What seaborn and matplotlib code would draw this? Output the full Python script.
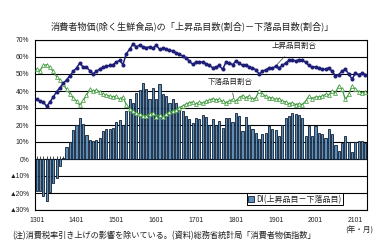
import matplotlib
matplotlib.use("Agg")
import matplotlib.pyplot as plt
import seaborn as sns
import numpy as np
import pandas as pd
from matplotlib.patches import Patch

sns.set_theme(style="white")
plt.rcParams['font.family'] = ['Noto Sans CJK JP', 'DejaVu Sans']

# ---- data (monthly, 2013/01 - 2021/04) ----
upper = [35, 34, 33.5, 31, 33.5, 36.5, 39.5, 42, 44.5, 46.5,
         49, 51.5, 53.5, 56.5, 54, 54, 52, 50, 51.5, 53,
         54, 54.5, 55, 55.5, 57, 58, 55.5, 62, 64.5, 67.5,
         66, 67, 66, 65.5, 66, 65, 67, 64.5, 65, 64.5,
         64, 63.5, 62.5, 61.5, 60.5, 59.5, 57.5, 55.7, 56.8, 57.3,
         56.8, 56, 55, 53.7, 54, 55, 52.7, 56.8, 56.5, 55.5,
         57.5, 56.5, 55, 55.5, 54, 53.5, 52.5, 50, 51.5, 52.5,
         53.5, 53.5, 54.5, 53.5, 55, 56.5, 58, 58.5, 57.5, 58.5,
         58, 57, 55, 54, 54.3, 53.5, 53, 52.7, 53.7, 51.5,
         49, 49.7, 51.7, 52.7, 50, 47, 50.4, 49.7, 50.4, 49.7]
lower = [53, 52, 55, 55.5, 54, 51.5, 48.5, 46.5, 44, 41,
         38.5, 36, 34, 31.5, 34.5, 37.5, 41, 40, 40.5, 39.5,
         38, 37.5, 37, 36.5, 37, 35, 36.5, 32, 29.5, 28,
         27, 26.5, 25.5, 25.5, 26.5, 27, 25, 26, 24.5, 26.5,
         27.5, 28.2, 29, 30.2, 31.2, 32.2, 33.2, 33.5, 32.2, 33.5,
         32.8, 34, 34.5, 35.5, 34.8, 35, 34, 33.2, 34, 35,
         34, 36, 37.3, 36, 37, 35, 36, 40, 38, 37,
         36, 36, 35, 35.5, 34, 33.5, 32.5, 33, 32, 32.5,
         32, 34, 37, 35.5, 36.5, 36.5, 37, 38, 37.5, 40,
         39, 43, 41, 35, 38, 43, 41, 39.5, 39, 39.5]
di = [-18.8, -18.8, -21.5, -24.5, -19.5, -14, -11, -4, 0.5, 7,
      10, 17, 20, 24.3, 20.6, 14, 11, 10.5, 11, 12.5,
      16.5, 17.8, 17.8, 18.5, 21.8, 23, 19.8, 28.3, 35, 33,
      39, 40.6, 44.5, 41, 35, 42, 35, 44, 38, 37,
      33, 35, 33, 30, 28, 25.5, 23.3, 21, 24, 23.3,
      25.7, 24.5, 20, 23.3, 20, 22.5, 18.5, 24, 24, 21.5,
      27, 25.3, 16.5, 25, 20, 17.5, 15.5, 11.6, 15, 15.5,
      19.5, 17.5, 17, 13.5, 20, 24.3, 25.3, 26.9, 26.3, 25.7,
      24.3, 13.5, 19.4, 13.5, 19.4, 15.5, 14.5, 12.5, 17.5, 15,
      8, 4.7, 9.6, 13.5, 10, 4.1, 10, 10.6, 10.6, 9.2]
tick_labels = ["1301", "1401", "1501", "1601", "1701", "1801", "1901", "2001", "2101"]
y_ticks = [70, 60, 50, 40, 30, 20, 10, 0, -10, -20, -30]
y_labels = ["70%", "60%", "50%", "40%", "30%", "20%", "10%", "0%", "▲10%", "▲20%", "▲30%"]

title = "消費者物価(除く生鮮食品)の「上昇品目数(割合)－下落品目数(割合)」"
label_up = "上昇品目割合"
label_down = "下落品目割合"
label_di = "DI(上昇品目－下落品目)"
note = "(注)消費税率引き上げの影響を除いている。(資料)総務省統計局「消費者物価指数」"
unit = "(年・月)"

n = len(di)
idx = np.arange(n)
df = pd.DataFrame({"i": idx, "upper": upper, "lower": lower, "di": di})

fig = plt.figure(figsize=(3.87, 2.5), dpi=100)
ax = fig.add_axes([35 / 387, 40 / 250, 332 / 387, 170 / 250])

bar_fc = "#5f8fb8"
bar_ec = "#0f1f33"
sns.barplot(data=df, x="i", y="di", ax=ax, color=bar_fc, width=0.64,
            edgecolor=bar_ec, linewidth=0.6, saturation=1, zorder=2)
sns.lineplot(data=df, x="i", y="upper", ax=ax, color="#1e1e78", lw=1.1,
             marker="o", markersize=2.9, markeredgewidth=0, zorder=4)
sns.lineplot(data=df, x="i", y="lower", ax=ax, color="#3f9a3f", lw=0.9,
             marker="^", markersize=2.8, markerfacecolor="#eef7e8",
             markeredgecolor="#3f9a3f", markeredgewidth=0.5, zorder=3)

ax.set_xlim(-0.5, n - 0.5)
ax.set_ylim(-30, 70)
ax.set_xlabel("")
ax.set_ylabel("")

tick_font = ['Liberation Sans Narrow', 'Liberation Sans', 'Noto Sans CJK JP']
ax.set_xticks(np.arange(0, n, 12)[:len(tick_labels)])
ax.set_xticklabels(tick_labels, fontsize=4.9, family=tick_font, color="#222222")
ax.set_yticks(y_ticks)
ax.set_yticklabels(y_labels, fontsize=4.9, family=tick_font, color="#222222")
ax.tick_params(axis="both", length=0, pad=4)
ax.tick_params(axis="x", pad=5)

for v in y_ticks:
    ax.axhline(v, color="black", lw=0.8, zorder=1)
for sp in ax.spines.values():
    sp.set_color("black")
    sp.set_linewidth(0.8)
    sp.set_visible(True)

# small category ticks on the zero line
sax = ax.secondary_xaxis(0.3)
sax.set_xticks(idx)
sax.set_xticklabels([])
sax.tick_params(axis="x", direction="in", length=2.2, width=0.5, color="black")
sax.spines["bottom"].set_linewidth(0.8)

# series labels
ax.annotate(label_up, xy=(72, 54.7), xytext=(77.5, 66.3), fontsize=5.4,
            ha="center", va="center", color="#222222",
            arrowprops=dict(arrowstyle="-", lw=0.5, color="#333333",
                            shrinkA=3, shrinkB=0))
ax.annotate(label_down, xy=(59.3, 36.3), xytext=(58.4, 45.5), fontsize=5.4,
            ha="center", va="center", color="#222222",
            arrowprops=dict(arrowstyle="-", lw=0.5, color="#333333",
                            shrinkA=3, shrinkB=0))

leg = ax.legend(handles=[Patch(facecolor=bar_fc, edgecolor=bar_ec, lw=0.6)],
                labels=[label_di], loc="center", bbox_to_anchor=(0.783, 0.063),
                fontsize=5.8, frameon=True, fancybox=False, framealpha=1,
                edgecolor="black", handlelength=0.7, handleheight=0.7,
                handletextpad=0.3, borderpad=0.2, borderaxespad=0)
leg.get_frame().set_linewidth(0.7)

fig.text(192 / 387, 1 - 26 / 250, title, ha="center", va="center", fontsize=6.6,
         color="#222222")
fig.text(12 / 387, 1 - 236 / 250, note, ha="left", va="center", fontsize=5.9,
         color="#222222")
fig.text(373 / 387, 1 - 231 / 250, unit, ha="right", va="center", fontsize=5.5,
         color="#222222")

fig.savefig("out.png", dpi=100)
